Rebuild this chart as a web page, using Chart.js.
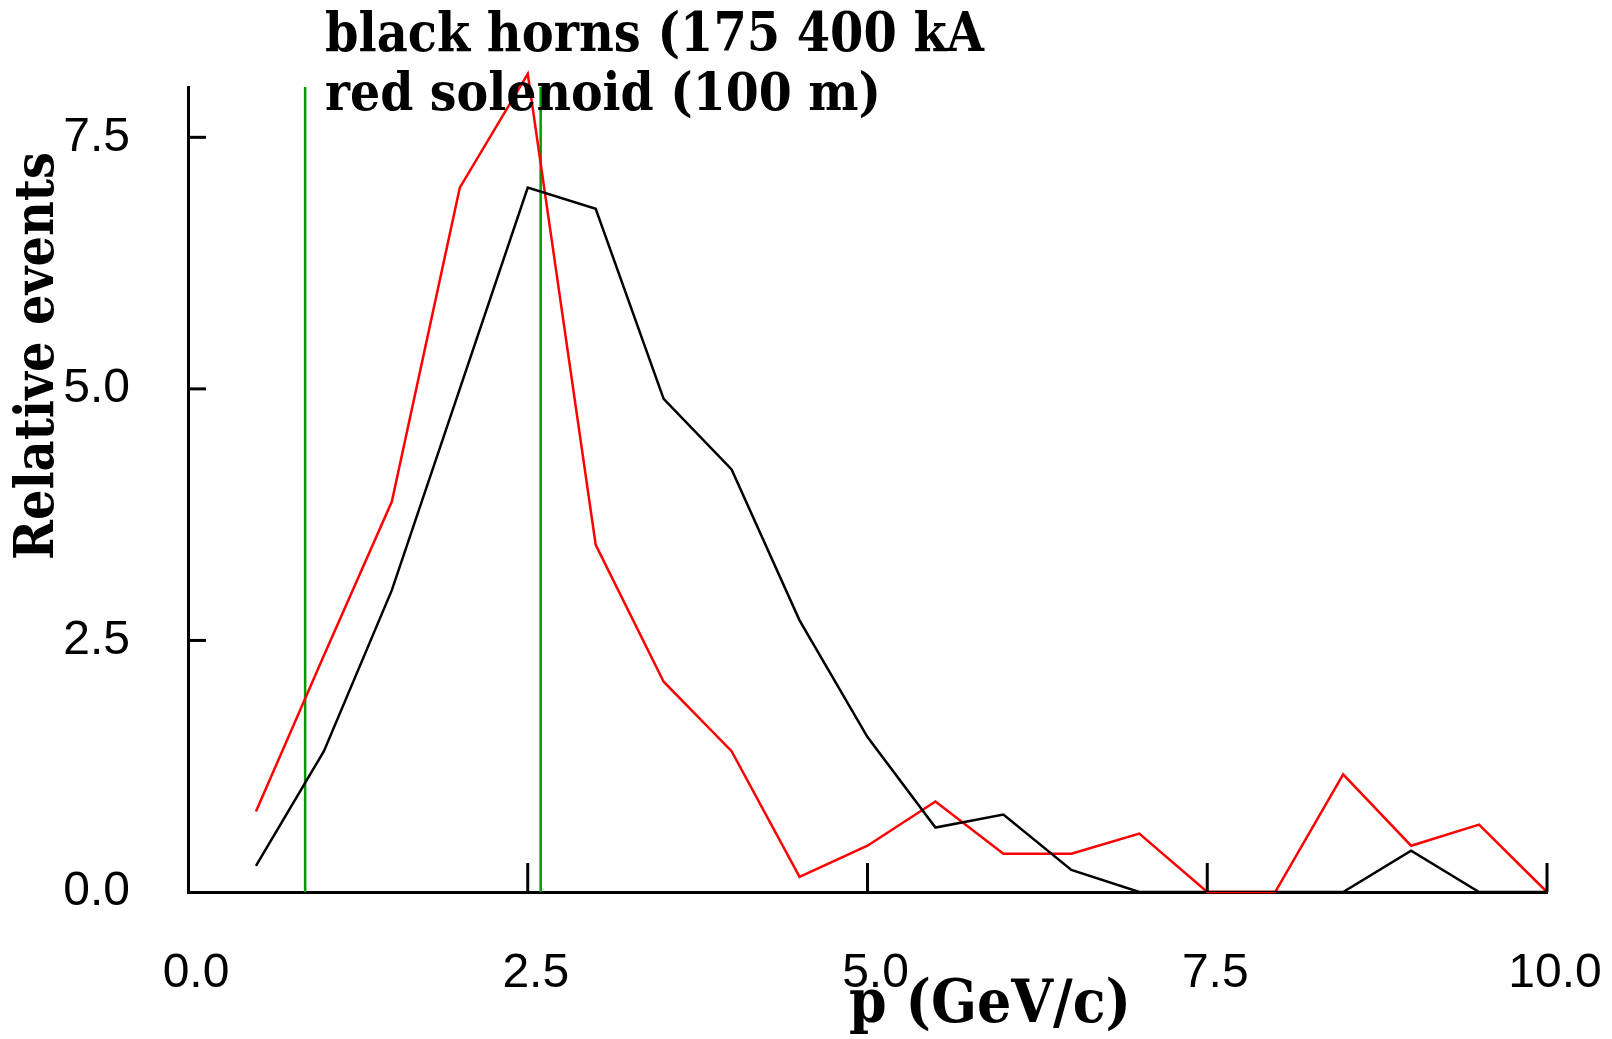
<!DOCTYPE html>
<html>
<head>
<meta charset="utf-8">
<script src="https://cdn.jsdelivr.net/npm/chart.js@4/dist/chart.umd.min.js"></script>
<style>
  body { margin: 0; background: #fff; }
  #wrap { width: 1612px; height: 1039px; }
</style>
</head>
<body>
<div id="wrap"><canvas id="momChart" width="1612" height="1039"></canvas></div>
<script>
// momentum bin centres (GeV/c)
const momenta = [0.5, 1.0, 1.5, 2.0, 2.5, 3.0, 3.5, 4.0, 4.5, 5.0, 5.5, 6.0, 6.5, 7.0, 7.5, 8.0, 8.5, 9.0, 9.5, 10.0];
const hornsEvents = [0.26, 1.40, 3.00, 5.00, 7.00, 6.79, 4.90, 4.20, 2.70, 1.54, 0.64, 0.77, 0.22, 0.0, 0.0, 0.0, 0.0, 0.41, 0.0, 0.0];
const solenoidEvents = [0.80, 2.35, 3.88, 7.00, 8.13, 3.45, 2.09, 1.40, 0.15, 0.46, 0.90, 0.38, 0.38, 0.58, 0.0, 0.0, 1.17, 0.46, 0.67, 0.0];
const cutMarks = [0.862, 2.595];
const xTicks = [0, 2.5, 5, 7.5, 10];
const yTicks = [0, 2.5, 5, 7.5];
const titleLines = ["black horns (175 400 kA", "red solenoid (100 m)"];

const serif = '"DejaVu Serif Condensed", "Liberation Serif", serif';
const sans = '"Liberation Sans", sans-serif';

function toPoints(ys) {
    return momenta.map((x, i) => ({ x: x, y: ys[i] }));
}

let datasets = [
    { data: toPoints(hornsEvents), borderColor: '#000000', borderWidth: 2.5 },
    { data: toPoints(solenoidEvents), borderColor: '#ff0000', borderWidth: 2.5, clip: false },
];
cutMarks.forEach((c) => datasets.push({
    data: [{ x: c, y: 0 }, { x: c, y: 8 }],
    borderColor: 'rgb(0,155,0)',
    borderWidth: 2.5,
}));

// draws text at given width, fitting the font size
function fitText(ctx, text, x, y, width, weight) {
    ctx.font = `${weight} 40px ${serif}`;
    let size = 40 * width / ctx.measureText(text).width;
    ctx.font = `${weight} ${size}px ${serif}`;
    ctx.fillText(text, x, y);
}

const decorPlugin = {
    id: 'decor',
    afterDraw(chart) {
        const ctx = chart.ctx;
        const xs = chart.scales.x;
        const ys = chart.scales.y;
        ctx.save();
        ctx.strokeStyle = '#000';
        ctx.lineWidth = 3;
        // inward ticks
        xTicks.filter(v => v > 0).forEach((v) => {
            let px = xs.getPixelForValue(v);
            ctx.beginPath();
            ctx.moveTo(px, ys.bottom);
            ctx.lineTo(px, ys.bottom - 29);
            ctx.stroke();
        });
        yTicks.filter(v => v > 0).forEach((v) => {
            let py = ys.getPixelForValue(v);
            ctx.beginPath();
            ctx.moveTo(xs.left, py);
            ctx.lineTo(xs.left + 18, py);
            ctx.stroke();
        });

        ctx.fillStyle = '#000';
        ctx.textAlign = 'left';
        ctx.textBaseline = 'alphabetic';
        fitText(ctx, titleLines[0], 325, 51, 659, 'bold');
        fitText(ctx, titleLines[1], 325, 110, 556, 'bold');

        ctx.textAlign = 'center';
        fitText(ctx, 'p (GeV/c)', 990, 1022, 282, 'bold');

        ctx.translate(53, 356);
        ctx.rotate(-Math.PI / 2);
        fitText(ctx, 'Relative events', 0, 0, 408, 'bold');
        ctx.restore();
    }
};

let momChartCanvas = document.getElementById("momChart").getContext("2d");
let momChart = new Chart(momChartCanvas, {
    type: "line",
    data: { datasets: datasets },
    options: {
        responsive: false,
        animation: false,
        layout: {
            padding: { top: 87, right: 65, left: 0, bottom: 0 }
        },
        elements: {
            point: { radius: 0 },
            line: { tension: 0 }
        },
        plugins: {
            legend: { display: false },
            tooltip: { enabled: false }
        },
        scales: {
            x: {
                type: 'linear',
                min: 0,
                max: 10,
                afterBuildTicks: (scale) => { scale.ticks = xTicks.map(v => ({ value: v })); },
                afterFit: (scale) => {
                    scale.height = 147;
                    scale.paddingLeft = 0;
                    scale.paddingRight = 0;
                },
                grid: { display: false, drawTicks: false },
                border: { display: true, color: '#000', width: 3 },
                ticks: {
                    color: '#000',
                    padding: 53,
                    labelOffset: 8,
                    maxRotation: 0,
                    font: { family: sans, size: 48 },
                    callback: (v) => Number(v).toFixed(1)
                }
            },
            y: {
                min: 0,
                max: 8,
                afterBuildTicks: (scale) => { scale.ticks = yTicks.map(v => ({ value: v })); },
                afterFit: (scale) => {
                    scale.width = 188;
                    scale.paddingTop = 0;
                    scale.paddingBottom = 0;
                },
                grid: { display: false, drawTicks: false },
                border: { display: true, color: '#000', width: 3 },
                ticks: {
                    color: '#000',
                    padding: 58,
                    font: { family: sans, size: 48 },
                    callback: (v) => Number(v).toFixed(1)
                }
            }
        }
    },
    plugins: [decorPlugin]
});
</script>
</body>
</html>
